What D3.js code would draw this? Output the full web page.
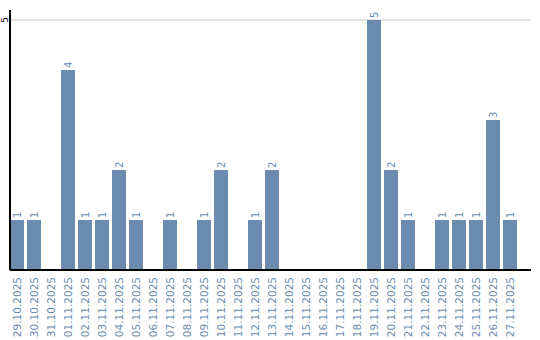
<!DOCTYPE html>
<html lang="en">
<head>
<meta charset="UTF-8">
<title>Daily counts</title>
<script src="https://d3js.org/d3.v7.min.js"></script>
<style>
    body{
        margin: 0;
        background: #fff;
        font-family: 'DejaVu Sans', sans-serif;
    }
</style>
</head>
<body>
<div id="chart"></div>
<script>
    const dates = ["29.10.2025","30.10.2025","31.10.2025","01.11.2025","02.11.2025","03.11.2025",
        "04.11.2025","05.11.2025","06.11.2025","07.11.2025","08.11.2025","09.11.2025","10.11.2025",
        "11.11.2025","12.11.2025","13.11.2025","14.11.2025","15.11.2025","16.11.2025","17.11.2025",
        "18.11.2025","19.11.2025","20.11.2025","21.11.2025","22.11.2025","23.11.2025","24.11.2025",
        "25.11.2025","26.11.2025","27.11.2025"];
    const counts = [1,1,0,4,1,1,2,1,0,1,0,1,2,0,1,2,0,0,0,0,0,5,2,1,0,1,1,1,3,1];
    const yTicks = [5];

    const w = 540, h = 340;
    const mLeft = 10, mRight = 531, mBottom = 270, mTop = 10;
    const barColor = "#6b8cae";

    const svg = d3.select("#chart").append("svg")
        .attr("width", w)
        .attr("height", h);

    const x = d3.scaleBand()
        .domain(dates)
        .range([mLeft, mLeft + 17 * dates.length - 3])
        .paddingInner(3 / 17)
        .paddingOuter(0);

    const y = d3.scaleLinear()
        .domain([0, 5.2])
        .range([mBottom, mTop]);

    // grid
    svg.selectAll("line.grid")
        .data(yTicks)
        .enter()
        .append("line")
        .attr("class", "grid")
        .attr("x1", mLeft)
        .attr("x2", mRight)
        .attr("y1", d => y(d))
        .attr("y2", d => y(d))
        .attr("stroke", "#c8c8c8")
        .attr("stroke-width", 1);

    // bars
    const data = dates.map((d, i) => ({date: d, value: counts[i]}));

    svg.selectAll("rect")
        .data(data.filter(d => d.value > 0))
        .enter()
        .append("rect")
        .attr("x", d => x(d.date))
        .attr("y", d => y(d.value))
        .attr("width", x.bandwidth())
        .attr("height", d => mBottom - y(d.value))
        .attr("fill", barColor);

    // value labels
    svg.selectAll("text.value")
        .data(data.filter(d => d.value > 0))
        .enter()
        .append("text")
        .attr("class", "value")
        .attr("transform", d => "translate(" + (x(d.date) + x.bandwidth() / 2 + 3.5) + "," + (y(d.value) - 2) + ") rotate(-90)")
        .attr("font-size", "10px")
        .attr("fill", barColor)
        .text(d => d.value);

    // x axis
    const xAxis = d3.axisBottom(x).tickSize(0).tickPadding(0);
    const gx = svg.append("g")
        .attr("transform", "translate(0," + mBottom + ")")
        .call(xAxis);
    gx.select(".domain").remove();
    gx.selectAll("text")
        .attr("transform", "rotate(-90)")
        .attr("text-anchor", "end")
        .attr("x", -7)
        .attr("y", 0)
        .attr("dy", "0.35em")
        .attr("font-family", "'DejaVu Sans', sans-serif")
        .attr("font-size", "10.5px")
        .attr("fill", barColor);

    svg.append("line")
        .attr("x1", mLeft)
        .attr("x2", mRight)
        .attr("y1", mBottom)
        .attr("y2", mBottom)
        .attr("stroke", "#000")
        .attr("stroke-width", 2);

    // y axis
    svg.append("line")
        .attr("x1", mLeft)
        .attr("x2", mLeft)
        .attr("y1", mTop)
        .attr("y2", mBottom)
        .attr("stroke", "#000")
        .attr("stroke-width", 2);

    svg.selectAll("text.ytick")
        .data(yTicks)
        .enter()
        .append("text")
        .attr("class", "ytick")
        .attr("transform", d => "translate(8," + y(d) + ") rotate(-90)")
        .attr("text-anchor", "middle")
        .attr("font-size", "9px")
        .attr("fill", "#000")
        .text(d => d);
</script>
</body>
</html>
